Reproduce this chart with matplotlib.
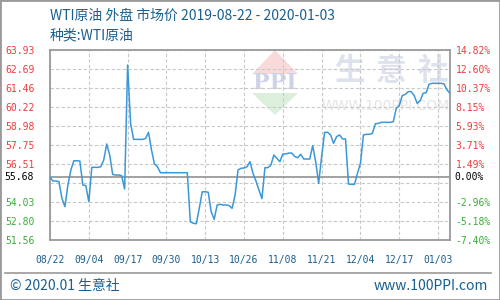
import numpy as np
import matplotlib
matplotlib.use("Agg")
import matplotlib.pyplot as plt
from matplotlib.lines import Line2D
from matplotlib.patches import Rectangle, Polygon

plt.rcParams['font.family'] = ['Noto Sans CJK SC', 'DejaVu Sans']

# WTI price, one value per calendar day 2019-08-22 .. 2020-01-03
prices = [
    55.64, 55.40, 55.40, 55.36, 54.27, 53.73, 55.14, 56.12, 56.72, 56.72,
    56.70, 55.14, 55.10, 54.05, 56.29, 56.29, 56.29, 56.33, 56.77, 57.81,
    57.09, 55.83, 55.79, 55.79, 55.75, 54.88, 62.95, 59.16, 58.11, 58.11,
    58.11, 58.11, 58.17, 58.57, 57.42, 56.51, 56.33, 55.94, 55.94, 55.94,
    55.94, 55.94, 55.94, 55.94, 55.94, 55.94, 55.94, 52.75, 52.65, 52.62,
    53.62, 54.70, 54.70, 54.67, 53.40, 52.90, 53.84, 53.88, 53.84, 53.84,
    53.80, 53.62, 54.49, 56.12, 56.23, 56.25, 56.33, 56.66, 55.90, 55.40,
    54.81, 54.25, 56.27, 56.27, 56.44, 57.09, 56.88, 56.66, 57.16, 57.16,
    57.22, 57.22, 56.99, 56.92, 57.14, 56.83, 56.83, 56.83, 57.70, 56.66,
    55.25, 57.00, 58.57, 58.57, 58.40, 57.85, 58.29, 58.40, 58.14, 58.14,
    55.20, 55.18, 55.18, 55.90, 56.55, 58.40, 58.44, 58.44, 58.50, 59.13,
    59.15, 59.22, 59.22, 59.22, 59.22, 59.26, 60.13, 60.31, 60.96, 61.04,
    61.22, 61.22, 60.96, 60.46, 60.63, 61.11, 61.15, 61.70, 61.76, 61.76,
    61.76, 61.76, 61.72, 61.33, 61.11,
]
x_labels = ["08/22", "09/04", "09/17", "09/30", "10/13", "10/26",
            "11/08", "11/21", "12/04", "12/17", "01/03"]
base_price = 55.68
left_labels = ["51.56", "52.80", "54.03", "", "56.51", "57.75",
               "58.98", "60.22", "61.46", "62.69", "63.93"]
right_labels = ["-7.40%", "-5.18%", "-2.96%", "", "1.49%", "3.71%",
                "5.93%", "8.15%", "10.37%", "12.60%", "14.82%"]

W, H = 500, 300
blue_txt = "#1a5f8f"
red = "#f03c3c"
green = "#3aad3a"
grid_c = "#c8c8c8"
frame_c = "#9a9a9a"
mono = "DejaVu Sans Mono"


def fx(px):
    return px / W


def fy(py):
    return 1 - py / H


fig = plt.figure(figsize=(5, 3), dpi=100)
ax = fig.add_axes([fx(50), fy(240), 0.8, fy(50) - fy(240)])

n = len(prices)
xs = np.arange(n)
ymin, ymax = 51.56, 63.93
yt = np.linspace(ymin, ymax, 11)


# watermark (logo + site name)
def axp(px, py):
    return ((px - 50) / 400, (240 - py) / 190)


ax.add_patch(Polygon([axp(252, 74), axp(298, 74), axp(275, 50)], closed=True,
                     transform=ax.transAxes, color="#f8dada", lw=0, zorder=0.5))
ax.add_patch(Polygon([axp(252, 93), axp(298, 93), axp(275, 115)], closed=True,
                     transform=ax.transAxes, color="#dcefdc", lw=0, zorder=0.5))
ax.text(*axp(275, 83), "PPI", transform=ax.transAxes, ha="center", va="center",
        fontsize=16, family="DejaVu Serif", weight="bold", color="#cdd4e6", zorder=0.6)
for cx, ch in zip([349, 391, 433], "生意社"):
    ax.text(*axp(cx, 71), ch, transform=ax.transAxes, ha="center", va="center",
            fontsize=22, color="#dde2ec", weight="bold", zorder=0.6)
ax.text(*axp(386, 106), "WWW.100PPI.COM", transform=ax.transAxes, ha="center",
        va="center", fontsize=10, family="DejaVu Sans", color="#e4e4e4", zorder=0.6)

ax.plot(xs, prices, color="#3a98d8", lw=1.1, zorder=3)
ax.axhline(base_price, color=frame_c, lw=1.3, zorder=2)

ax.set_xlim(0, n - 1)
ax.set_ylim(ymin, ymax)
ax.set_xticks(np.arange(0, n, 13))
ax.set_xticklabels(x_labels, family=mono, fontsize=7, color=blue_txt)
ax.set_yticks(yt)
ax.set_yticklabels(left_labels, family=mono, fontsize=7)
for lab, v in zip(ax.get_yticklabels(), yt):
    lab.set_color(red if v > base_price else green)
ax.tick_params(axis="x", length=0, pad=11)
ax.tick_params(axis="y", length=0, pad=11)
ax.grid(True, color=grid_c, ls=(0, (3, 2)), lw=0.8, zorder=1)
for sp in ax.spines.values():
    sp.set_color(frame_c)
    sp.set_linewidth(1.3)

# base price label on the left
ax.text(-0.04, (base_price - ymin) / (ymax - ymin), "55.68", transform=ax.transAxes,
        ha="right", va="center", family=mono, fontsize=7, color="black")

ax2 = ax.twinx()
ax2.set_ylim(ymin, ymax)
ax2.set_yticks(yt)
ax2.set_yticklabels(right_labels, family=mono, fontsize=7)
for lab, v in zip(ax2.get_yticklabels(), yt):
    lab.set_color(red if v > base_price else green)
ax2.tick_params(axis="y", length=0, pad=4)
for sp in ax2.spines.values():
    sp.set_visible(False)
ax2.text(1.01, (base_price - ymin) / (ymax - ymin), "0.00%", transform=ax.transAxes,
         ha="left", va="center", family=mono, fontsize=7, color="black")

# titles
fig.text(fx(50), fy(16), "WTI原油 外盘 市场价 2019-08-22 - 2020-01-03",
         ha="left", va="center", fontsize=10, color=blue_txt)
fig.text(fx(50), fy(35), "种类:WTI原油", ha="left", va="center",
         fontsize=10, color=blue_txt)

# footer
fig.add_artist(Line2D([fx(5), fx(491)], [fy(273), fy(273)], color=frame_c, lw=1.2))
fig.text(fx(10), fy(286), "© 2020.01 生意社", ha="left", va="center",
         fontsize=10, color=blue_txt)
fig.text(fx(488), fy(286), "www.100PPI.com", ha="right", va="center",
         fontsize=10, color=blue_txt)

# outer border
fig.add_artist(Rectangle((0, 0), 1, 1, transform=fig.transFigure, fill=False,
                         edgecolor=frame_c, lw=2))

fig.savefig("out.png", dpi=100)
